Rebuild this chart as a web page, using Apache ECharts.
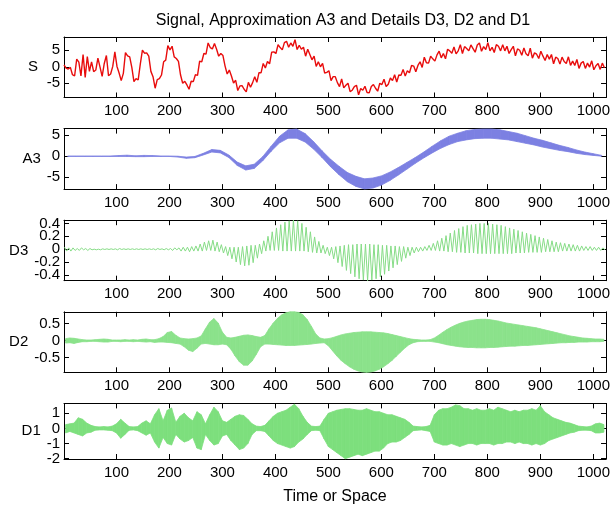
<!DOCTYPE html>
<html><head><meta charset="utf-8">
<script src="https://cdn.jsdelivr.net/npm/echarts@6/dist/echarts.min.js"></script>
<style>html,body{margin:0;padding:0;background:#fff}#c{width:613px;height:506px}</style>
</head><body><div id="c"></div>
<script>
// ---------------- data ----------------
const titleText = 'Signal, Approximation A3 and Details D3, D2 and D1';
const xLabelText = 'Time or Space';
const panelNames = ['S', 'A3', 'D3', 'D2', 'D1'];
const xTicks = [100, 200, 300, 400, 500, 600, 700, 800, 900, 1000];
const sTicks = [-5, 0, 5];
const a3Ticks = [-5, 0, 5];
const d3Ticks = [-0.4, -0.2, 0, 0.2, 0.4];
const d2Ticks = [-0.5, 0, 0.5];
const d1Ticks = [-2, -1, 0, 1];
const xMin = 1, xMax = 1024;
const yMins = [-9.3, -7.85, -0.49, -0.93, -2.02];
const yMaxs = [9.0, 6.6, 0.45, 0.85, 1.65];

// Signal S, one value every 4 samples (samples 1, 5, 9, ...)
const sValues = [
0.6,-0.4,-0.7,-0.2,-2.4,-2.8,2.3,1.4,-2.8,3.7,-3.2,3.1,-1.4,1.5,-1.5,-1.0,
2.6,-0.1,-2.9,1.0,3.4,-2.7,-2.2,0.1,4.5,0.1,-1.9,-4.2,-2.0,4.3,3.3,3.0,
-0.2,-4.5,-3.6,-4.0,0.8,5.0,4.1,4.2,3.2,-1.4,-3.0,-6.5,-3.9,-3.6,-2.5,1.5,
2.0,6.4,5.1,6.2,3.0,2.5,1.6,-2.5,-5.0,-4.4,-5.5,-6.8,-4.4,-4.5,-2.4,-2.6,
1.7,1.5,4.0,3.8,7.2,5.8,5.4,7.0,5.3,3.2,4.0,3.4,0.2,-2.2,-1.0,-2.8,
-4.9,-4.1,-7.2,-5.8,-5.7,-6.8,-7.6,-4.7,-6.2,-4.8,-3.0,-4.7,-1.8,-1.8,1.0,-0.4,
1.6,0.9,4.4,4.5,4.0,6.7,5.8,5.1,7.3,7.7,5.9,7.2,6.2,8.2,5.2,6.5,
5.3,5.9,3.2,5.3,3.7,2.1,3.2,0.1,1.5,0.0,1.0,-1.9,-1.7,-1.2,-4.2,-3.0,
-3.0,-4.8,-6.0,-3.7,-6.4,-5.6,-5.0,-7.5,-7.1,-6.0,-5.6,-8.5,-6.6,-7.1,-5.9,-7.8,
-7.9,-6.0,-5.4,-6.5,-7.4,-5.0,-5.4,-3.8,-6.0,-5.3,-3.4,-4.2,-2.4,-4.6,-2.5,-2.6,
-0.8,-2.8,-1.2,-1.8,0.4,0.2,-1.5,0.4,1.5,-0.2,2.9,1.2,1.1,3.2,2.4,1.7,
3.6,4.7,2.7,4.0,2.4,5.3,4.8,4.1,6.0,3.9,4.8,6.7,4.0,6.1,5.5,4.8,
6.6,5.5,4.4,6.6,7.2,4.7,6.1,5.2,7.3,4.8,5.9,4.3,6.7,6.2,4.8,6.7,
4.8,6.2,4.0,5.2,6.2,3.3,5.4,5.0,3.5,5.7,3.9,3.3,5.6,2.6,4.2,3.8,
2.5,4.7,3.2,1.9,3.7,2.3,3.7,0.9,2.9,2.5,0.8,2.9,1.6,1.0,3.0,0.4,
1.7,0.4,2.2,-0.5,1.1,1.6,-0.5,1.1,-0.1,1.8,-0.9,0.3,1.0,-0.8,1.1,-0.3];

// Approximation A3: low / high envelope per 16-sample block
const a3Low = [
-0.05,-0.05,-0.05,-0.05,-0.05,-0.05,-0.05,-0.05,-0.1,-0.1,-0.05,-0.05,-0.05,-0.2,-0.5,-0.35,
0.3,1.0,0.8,-0.3,-2.2,-3.3,-2.9,-1.1,1.2,3.2,4.3,4.3,3.4,1.7,-0.3,-2.5,
-4.4,-6.1,-7.2,-7.8,-7.6,-6.9,-5.8,-4.5,-3.1,-1.7,-0.4,0.8,1.9,2.8,3.5,3.9,
4.2,4.3,4.3,4.1,3.9,3.5,3.1,2.7,2.2,1.8,1.4,1.1,0.7,0.4,0.2,0.0];
const a3High = [
0.05,0.05,0.05,0.05,0.05,0.05,0.15,0.25,0.1,0.2,0.15,0.05,0.05,0.0,-0.2,-0.05,
0.7,1.6,1.4,0.3,-1.4,-2.3,-1.9,-0.1,2.4,4.8,6.3,6.5,5.4,3.5,1.3,-0.7,
-2.4,-3.9,-4.8,-5.4,-5.2,-4.7,-3.8,-2.7,-1.5,-0.3,1.0,2.4,3.7,4.8,5.5,6.1,
6.4,6.5,6.5,6.3,5.9,5.5,4.9,4.3,3.8,3.2,2.6,2.1,1.5,1.0,0.6,0.2];

// Details: high / low envelope per 8-sample block
const d3High = [
0.03,0.02,0.02,0.01,0.02,0.01,0.01,0.0,0.0,0.005,0.005,0.005,0.005,0.01,0.005,0.005,
0.005,0.005,0.005,0.005,0.005,0.005,0.01,0.005,0.01,0.01,0.02,0.02,0.03,0.03,0.04,0.05,
0.08,0.11,0.13,0.14,0.11,0.07,0.04,0.03,0.03,0.03,0.04,0.05,0.06,0.06,0.08,0.13,
0.20,0.27,0.33,0.38,0.42,0.44,0.45,0.44,0.40,0.34,0.27,0.19,0.12,0.06,0.03,0.03,
0.04,0.05,0.06,0.07,0.07,0.08,0.08,0.08,0.08,0.07,0.07,0.06,0.06,0.05,0.05,0.04,
0.04,0.03,0.03,0.03,0.03,0.04,0.06,0.09,0.13,0.17,0.21,0.25,0.29,0.32,0.35,0.37,
0.38,0.39,0.40,0.40,0.40,0.39,0.38,0.37,0.35,0.33,0.31,0.29,0.27,0.25,0.23,0.21,
0.19,0.17,0.15,0.13,0.11,0.10,0.09,0.08,0.07,0.06,0.05,0.04,0.04,0.03,0.03,0.02];
const d3Low = [
-0.03,-0.03,-0.02,-0.02,-0.01,-0.02,-0.01,-0.01,-0.01,-0.005,-0.005,-0.005,-0.01,-0.005,-0.005,-0.005,
-0.005,-0.005,-0.005,-0.005,-0.005,-0.01,-0.005,-0.01,-0.01,-0.02,-0.01,-0.03,-0.03,-0.04,-0.03,-0.03,
-0.03,-0.02,-0.02,-0.03,-0.04,-0.06,-0.10,-0.15,-0.20,-0.24,-0.26,-0.25,-0.21,-0.14,-0.07,-0.03,
-0.02,-0.02,-0.02,-0.03,-0.03,-0.03,-0.03,-0.03,-0.03,-0.04,-0.05,-0.06,-0.06,-0.07,-0.10,-0.15,
-0.21,-0.27,-0.33,-0.38,-0.43,-0.46,-0.48,-0.49,-0.48,-0.46,-0.43,-0.39,-0.34,-0.29,-0.24,-0.19,
-0.14,-0.10,-0.06,-0.04,-0.03,-0.02,-0.02,-0.02,-0.03,-0.03,-0.04,-0.04,-0.05,-0.05,-0.06,-0.06,
-0.06,-0.07,-0.07,-0.07,-0.07,-0.07,-0.07,-0.07,-0.07,-0.07,-0.06,-0.06,-0.06,-0.05,-0.05,-0.05,
-0.05,-0.04,-0.04,-0.04,-0.04,-0.03,-0.03,-0.03,-0.03,-0.03,-0.02,-0.02,-0.02,-0.02,-0.02,-0.01];
const d2High = [
0.06,0.08,0.07,0.05,0.03,0.02,0.02,0.03,0.04,0.05,0.04,0.02,0.02,0.02,0.03,0.02,
0.03,0.02,0.04,0.05,0.03,0.03,0.06,0.12,0.24,0.27,0.16,0.08,0.06,0.05,0.06,0.08,
0.14,0.35,0.55,0.65,0.52,0.25,0.10,0.08,0.10,0.13,0.16,0.17,0.15,0.12,0.10,0.15,
0.35,0.52,0.66,0.76,0.82,0.85,0.85,0.83,0.76,0.62,0.42,0.20,0.08,0.05,0.06,0.09,
0.13,0.17,0.20,0.22,0.24,0.25,0.26,0.26,0.26,0.25,0.24,0.23,0.21,0.18,0.15,0.12,
0.09,0.06,0.04,0.03,0.02,0.02,0.03,0.08,0.16,0.25,0.33,0.40,0.46,0.51,0.55,0.58,
0.60,0.62,0.63,0.63,0.62,0.60,0.58,0.55,0.52,0.50,0.48,0.46,0.44,0.42,0.40,0.38,
0.35,0.32,0.29,0.26,0.23,0.20,0.17,0.14,0.12,0.10,0.08,0.07,0.06,0.05,0.05,0.04];
const d2Low = [
-0.07,-0.06,-0.08,-0.05,-0.03,-0.03,-0.02,-0.02,-0.03,-0.04,-0.04,-0.02,-0.02,-0.03,-0.02,-0.02,
-0.03,-0.02,-0.03,-0.04,-0.03,-0.05,-0.04,-0.04,-0.05,-0.06,-0.08,-0.10,-0.18,-0.28,-0.32,-0.22,
-0.10,-0.08,-0.10,-0.12,-0.12,-0.10,-0.12,-0.25,-0.45,-0.62,-0.72,-0.72,-0.60,-0.40,-0.18,-0.10,
-0.10,-0.11,-0.12,-0.13,-0.14,-0.14,-0.14,-0.13,-0.12,-0.11,-0.10,-0.08,-0.07,-0.06,-0.15,-0.30,
-0.45,-0.58,-0.68,-0.77,-0.84,-0.89,-0.92,-0.93,-0.92,-0.89,-0.84,-0.77,-0.68,-0.58,-0.46,-0.34,
-0.22,-0.12,-0.06,-0.03,-0.02,-0.02,-0.02,-0.04,-0.06,-0.09,-0.12,-0.14,-0.16,-0.18,-0.19,-0.20,
-0.20,-0.21,-0.21,-0.21,-0.20,-0.20,-0.19,-0.18,-0.17,-0.16,-0.16,-0.15,-0.14,-0.14,-0.13,-0.12,
-0.11,-0.10,-0.09,-0.08,-0.07,-0.06,-0.06,-0.05,-0.05,-0.04,-0.04,-0.04,-0.03,-0.03,-0.03,-0.02];
const d1High = [
0.25,0.3,0.35,0.7,0.6,0.35,0.2,0.12,0.1,0.12,0.1,0.15,0.3,0.6,0.35,0.12,
0.1,0.12,0.35,0.5,0.3,0.9,1.3,0.5,1.2,1.35,0.4,0.8,1.0,0.7,0.5,1.1,
0.9,0.3,0.9,1.4,1.1,0.5,0.4,0.6,0.8,0.9,0.85,0.6,0.3,0.15,0.12,0.2,
0.5,0.8,1.0,1.1,1.2,1.4,1.6,1.3,0.8,0.4,0.15,0.12,0.15,0.6,1.0,1.1,
1.2,1.25,1.3,1.3,1.25,1.2,1.2,1.3,1.2,1.1,1.1,1.0,0.9,0.9,0.8,0.7,
0.6,0.4,0.15,0.12,0.1,0.12,0.2,0.9,1.2,1.3,1.3,1.4,1.55,1.5,1.3,1.3,
1.2,1.3,1.2,1.2,1.3,1.2,1.4,1.3,1.2,1.1,1.2,1.1,1.2,1.2,1.3,1.2,
1.5,1.1,0.9,0.7,0.6,0.5,0.4,0.35,0.25,0.15,0.12,0.1,0.15,0.3,0.35,0.25];
const d1Low = [
-0.3,-0.2,-0.3,-0.4,-0.5,-0.3,-0.25,-0.12,-0.1,-0.1,-0.12,-0.15,-0.3,-0.65,-0.4,-0.12,
-0.1,-0.15,-0.3,-0.45,-0.3,-0.9,-1.3,-0.6,-1.0,-1.1,-0.4,-0.7,-0.9,-0.8,-0.6,-1.3,
-1.4,-0.4,-0.8,-1.1,-1.0,-0.5,-0.4,-0.8,-1.1,-1.4,-1.3,-1.0,-0.4,-0.15,-0.15,-0.2,
-0.5,-0.8,-1.0,-1.1,-1.2,-1.3,-1.2,-0.9,-0.7,-0.4,-0.15,-0.12,-0.15,-0.7,-1.2,-1.4,
-1.6,-1.8,-2.0,-1.9,-1.8,-1.7,-1.8,-1.7,-1.6,-1.5,-1.5,-1.3,-1.0,-0.9,-0.9,-0.8,
-0.6,-0.4,-0.15,-0.12,-0.1,-0.15,-0.2,-0.9,-1.0,-1.1,-1.1,-1.0,-1.1,-1.2,-1.1,-1.0,
-1.0,-1.1,-1.0,-1.0,-1.0,-1.1,-1.0,-1.0,-0.9,-0.9,-1.0,-0.9,-1.0,-1.0,-1.1,-1.0,
-1.1,-1.0,-0.8,-0.7,-0.6,-0.5,-0.4,-0.3,-0.25,-0.15,-0.12,-0.12,-0.15,-0.3,-0.3,-0.25];

// ---------------- layout / style ----------------
const FONT = 'Liberation Sans, Arial, Helvetica, sans-serif';
const gridLeft = 64, gridRight = 1, gridH = 60.5;
const gridTops = [37, 128.6, 220.2, 311.8, 403.4];
const nameGaps = [26, 21, 34, 34, 23];
const yTickSets = [sTicks, a3Ticks, d3Ticks, d2Ticks, d1Ticks];
const RED = '#e80c0c', BLUE = '#7c80e2', GREEN3 = '#86dc86', GREEN2 = '#8be28b', GREEN1 = '#7ddf7d';

const grids = [], xAxes = [], yAxes = [], series = [];
const labelStyle = { color: '#000', fontSize: 15, fontFamily: FONT };
for (let p = 0; p < 5; p++) {
  grids.push({ left: gridLeft, right: gridRight, top: gridTops[p], height: gridH, show: false });
  const baseX = {
    type: 'value', gridIndex: p, min: xMin, max: xMax,
    axisLine: { show: true, onZero: false, lineStyle: { color: '#000', width: 1 } },
    axisTick: { show: true, inside: true, length: 5, customValues: xTicks, lineStyle: { color: '#000' } },
    splitLine: { show: false }
  };
  xAxes.push(Object.assign({}, baseX, {
    position: 'bottom',
    axisLabel: Object.assign({ show: true, customValues: xTicks, margin: 6, hideOverlap: false, formatter: v => String(v) }, labelStyle),
    name: p === 4 ? xLabelText : '', nameLocation: 'middle', nameGap: 30,
    nameTextStyle: { color: '#000', fontSize: 16, fontFamily: FONT }
  }));
  xAxes.push(Object.assign({}, baseX, { position: 'top', axisLabel: { show: false } }));
  const baseY = {
    type: 'value', gridIndex: p, min: yMins[p], max: yMaxs[p],
    axisLine: { show: true, onZero: false, lineStyle: { color: '#000', width: 1 } },
    axisTick: { show: true, inside: true, length: 5, customValues: yTickSets[p], lineStyle: { color: '#000' } },
    splitLine: { show: false }
  };
  // labels split over two overlaid left axes so neighbouring (overlapping) labels are all drawn
  const even = yTickSets[p].filter((_, i) => i % 2 === 0);
  const odd = yTickSets[p].filter((_, i) => i % 2 === 1);
  yAxes.push(Object.assign({}, baseY, {
    position: 'left',
    axisLabel: Object.assign({ show: true, customValues: even, margin: 4, hideOverlap: false, formatter: v => String(v) }, labelStyle),
    name: panelNames[p], nameLocation: 'middle', nameRotate: 0, nameGap: nameGaps[p],
    nameTextStyle: { color: '#000', fontSize: 15, fontFamily: FONT, align: 'right', verticalAlign: 'middle' }
  }));
  yAxes.push(Object.assign({}, baseY, { position: 'right', axisLabel: { show: false } }));
  yAxes.push(Object.assign({}, baseY, {
    position: 'left', offset: 0,
    axisLine: { show: false }, axisTick: { show: false },
    axisLabel: Object.assign({ show: odd.length > 0, customValues: odd.length ? odd : [0], margin: 4, hideOverlap: false, formatter: v => String(v) }, labelStyle)
  }));
}

// Signal line
series.push({
  type: 'line', xAxisIndex: 0, yAxisIndex: 0, showSymbol: false, silent: true,
  data: sValues.map((v, i) => [1 + 4 * i, v]),
  lineStyle: { color: RED, width: 1.4 }
});

// band helper: polygon between low/high envelopes of neighbouring blocks
function bandSeries(p, xs, lo, hi, color) {
  const data = [];
  for (let k = 0; k < xs.length - 1; k++) data.push([xs[k], lo[k], hi[k], xs[k + 1], lo[k + 1], hi[k + 1]]);
  return {
    type: 'custom', xAxisIndex: 2 * p, yAxisIndex: 3 * p, silent: true,
    encode: { x: [0, 3], y: [1, 2, 4, 5] },
    data,
    renderItem(params, api) {
      const a = api.coord([api.value(0), api.value(2)]);
      const b = api.coord([api.value(3), api.value(5)]);
      const c = api.coord([api.value(3), api.value(4)]);
      const d = api.coord([api.value(0), api.value(1)]);
      return { type: 'polygon', shape: { points: [a, b, c, d] }, style: { fill: color, stroke: color, lineWidth: 0.8 } };
    }
  };
}
const a3X = a3Low.map((_, k) => 8 + 16 * k);
const dX = d1Low.map((_, k) => 4 + 8 * k);
series.push(bandSeries(1, a3X, a3Low, a3High, BLUE));

// D3 as min/max zigzag (oscillation visible as lines)
const d3Zig = [];
d3High.forEach((h, k) => { d3Zig.push([dX[k] - 2, h]); d3Zig.push([dX[k] + 2, d3Low[k]]); });
series.push({
  type: 'line', xAxisIndex: 4, yAxisIndex: 6, showSymbol: false, silent: true,
  data: d3Zig, lineStyle: { color: GREEN3, width: 1 }
});
series.push(bandSeries(3, dX, d2Low, d2High, GREEN2));
series.push(bandSeries(4, dX, d1Low, d1High, GREEN1));

const chart = echarts.init(document.getElementById('c'), null, { renderer: 'canvas' });
chart.setOption({
  animation: false,
  backgroundColor: '#fff',
  title: {
    text: titleText, left: 338, top: 8, textAlign: 'center',
    textStyle: { color: '#000', fontSize: 16, fontWeight: 'normal', fontFamily: FONT }
  },
  grid: grids, xAxis: xAxes, yAxis: yAxes, series
});
</script></body></html>
